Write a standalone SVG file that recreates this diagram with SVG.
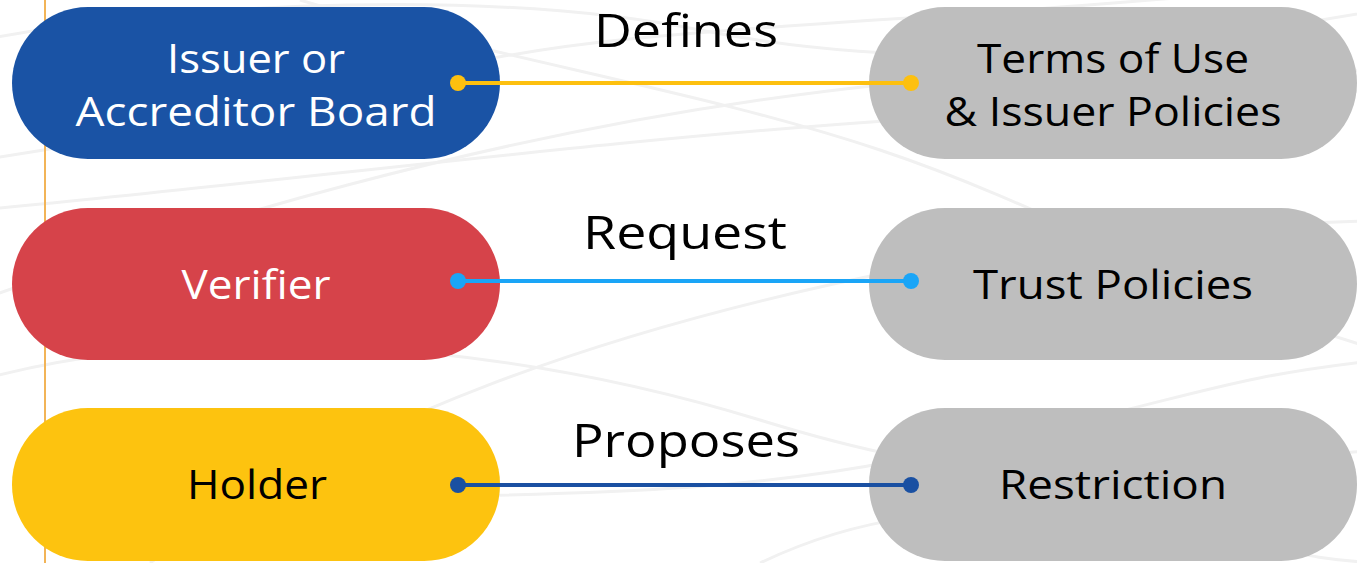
<svg xmlns="http://www.w3.org/2000/svg" width="1357" height="563" viewBox="0 0 1357 563">
  <style>
    .wave { fill: none; stroke: #f1f1f1; stroke-width: 3; }
    .pill-text { font-family: "Open Sans", "Noto Sans", "Liberation Sans", sans-serif; font-size: 41px; text-anchor: middle; }
    .label { font-family: "Open Sans", "Noto Sans", "Liberation Sans", sans-serif; font-size: 46px; text-anchor: middle; fill: #000; }
    .white { fill: #ffffff; }
    .black { fill: #000000; }
    .link { stroke-width: 4; fill: none; }
  </style>

  <!-- page background with faint wave texture -->
  <rect x="0" y="0" width="1357" height="563" fill="#ffffff"/>
  <g id="background">
    <path class="wave" d="M-20 40 C 200 0, 500 -10, 700 30 S 1100 60, 1380 10"/>
    <path class="wave" d="M-20 160 C 250 120, 420 60, 620 40 S 950 20, 1380 -20"/>
    <path class="wave" d="M-20 300 C 200 220, 480 140, 760 100 S 1100 80, 1380 70"/>
    <path class="wave" d="M-20 210 C 300 180, 600 140, 900 120 S 1200 100, 1380 90"/>
    <path class="wave" d="M 150 563 C 350 420, 600 330, 900 270 S 1200 230, 1380 220"/>
    <path class="wave" d="M-20 380 C 200 320, 500 340, 760 420 S 1100 470, 1380 450"/>
    <path class="wave" d="M 100 540 C 300 470, 600 520, 900 460 S 1200 380, 1380 360"/>
    <path class="wave" d="M 760 563 C 850 520, 950 500, 1100 520 S 1300 560, 1380 563"/>
    <path class="wave" d="M 300 0 C 500 60, 700 90, 880 150 S 1200 300, 1380 350"/>
  </g>

  <!-- vertical accent rule -->
  <line x1="45" y1="0" x2="45" y2="563" stroke="#f2b457" stroke-width="2"/>

  <!-- left column -->
  <g id="issuer">
    <rect x="12" y="7" width="488" height="152" rx="76" fill="#1a53a5"/>
    <text class="pill-text white" x="256" y="73" textLength="178" lengthAdjust="spacingAndGlyphs">Issuer or</text>
    <text class="pill-text white" x="256" y="126" textLength="361" lengthAdjust="spacingAndGlyphs">Accreditor Board</text>
  </g>
  <g id="verifier">
    <rect x="12" y="208" width="488" height="152" rx="76" fill="#d6434a"/>
    <text class="pill-text white" x="256" y="299" textLength="149" lengthAdjust="spacingAndGlyphs">Verifier</text>
  </g>
  <g id="holder">
    <rect x="12" y="408" width="488" height="153" rx="76" fill="#fdc30f"/>
    <text class="pill-text black" x="257" y="499" textLength="140" lengthAdjust="spacingAndGlyphs">Holder</text>
  </g>

  <!-- right column -->
  <g id="terms">
    <rect x="869" y="7" width="488" height="152" rx="76" fill="#bebebe"/>
    <text class="pill-text black" x="1113" y="73" textLength="272" lengthAdjust="spacingAndGlyphs">Terms of Use</text>
    <text class="pill-text black" x="1113" y="126" textLength="337" lengthAdjust="spacingAndGlyphs">&amp; Issuer Policies</text>
  </g>
  <g id="trust">
    <rect x="869" y="208" width="488" height="152" rx="76" fill="#bebebe"/>
    <text class="pill-text black" x="1113" y="299" textLength="280" lengthAdjust="spacingAndGlyphs">Trust Policies</text>
  </g>
  <g id="restriction">
    <rect x="869" y="408" width="488" height="153" rx="76" fill="#bebebe"/>
    <text class="pill-text black" x="1113" y="499" textLength="228" lengthAdjust="spacingAndGlyphs">Restriction</text>
  </g>

  <!-- connectors, drawn over the pills from dot to dot -->
  <g id="connectors">
    <g id="link-defines">
      <line class="link" x1="458" y1="83" x2="911" y2="83" stroke="#fdc00f"/>
      <circle cx="458" cy="83" r="8" fill="#fdc00f"/>
      <circle cx="911" cy="83" r="8" fill="#fdc00f"/>
      <text class="label" x="686" y="47" textLength="184" lengthAdjust="spacingAndGlyphs">Defines</text>
    </g>
    <g id="link-request">
      <line class="link" x1="458" y1="281" x2="911" y2="281" stroke="#1aa5f7"/>
      <circle cx="458" cy="281" r="8" fill="#1aa5f7"/>
      <circle cx="911" cy="281" r="8" fill="#1aa5f7"/>
      <text class="label" x="685" y="249" textLength="204" lengthAdjust="spacingAndGlyphs">Request</text>
    </g>
    <g id="link-proposes">
      <line class="link" x1="458" y1="485" x2="911" y2="485" stroke="#1a50a2"/>
      <circle cx="458" cy="485" r="8" fill="#1a50a2"/>
      <circle cx="911" cy="485" r="8" fill="#1a50a2"/>
      <text class="label" x="686" y="457" textLength="228" lengthAdjust="spacingAndGlyphs">Proposes</text>
    </g>
  </g>
</svg>
